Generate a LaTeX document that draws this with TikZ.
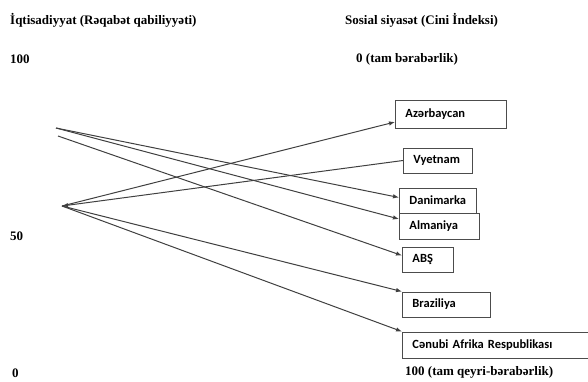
\documentclass[tikz,border=0pt]{standalone}
\usepackage{fontspec}
\setmainfont{Liberation Serif}
\newfontfamily\calfont{Carlito}
\usetikzlibrary{arrows.meta,positioning}

\begin{document}
\begin{tikzpicture}[x=1pt, y=-1pt,
    box/.style={rectangle, draw=gray!60!black, line width=0.9pt, anchor=west, align=left,
      inner xsep=10pt, inner ysep=0pt, minimum height=25pt, font=\calfont\bfseries\fontsize{12.5}{14}\selectfont},
    link/.style={draw=gray!50!black, line width=1pt, -{Latex[length=6pt,width=4.5pt]}},
    lbl/.style={anchor=west, inner sep=0pt, font=\bfseries\fontsize{13}{15}\selectfont}]
  \clip (0,0) rectangle (588,382);
  % Header
  \node (eco) [lbl] at (10,20) {İqtisadiyyat (Rəqabət qabiliyyəti)};
  \node (soc) [lbl] at (345,20) {Sosial siyasət (Cini İndeksi)};
  \node (eco100) [lbl] at (10,59) {100};
  \node (soc0) [lbl] at (356,59) {0 (tam bərabərlik)};
  \node (eco50) [lbl] at (10,236) {50};
  \node (eco0) [lbl] at (12,373) {0};
  \node (soc100) [lbl] at (405,372) {100 (tam qeyri-bərabərlik)};
  % Countries
  \node (aze) [box, text width=91pt, minimum height=28pt] at (395,114) {Azərbaycan};
  \node (vie) [box, text width=49pt] at (403,160.5) {Vyetnam};
  \node (den) [box, text width=57pt] at (399,200.5) {Danimarka};
  \node (ger) [box, text width=60pt, minimum height=26pt] at (399,226) {Almaniya};
  \node (usa) [box, text width=31pt] at (402,259.5) {ABŞ};
  \node (bra) [box, text width=68pt] at (402,304.5) {Braziliya};
  \node (rsa) [box, text width=200pt, minimum height=26pt] at (402,345) {Cənubi Afrika Respublikası};
  % Start points
  \coordinate (hi) at (56,128);
  \coordinate (hi2) at (58,136);
  \coordinate (mid) at (62,206);
  % Arrows
  \draw[link] (hi) -- ([yshift=3pt]den.west);
  \draw[link] (hi) -- ([yshift=7pt]ger.west);
  \draw[link] (hi2) -- ([yshift=4pt]usa.west);
  \draw[link] (mid) -- ([yshift=-8pt]aze.west);
  \draw[link] (vie.west) -- (mid);
  \draw[link] (mid) -- (bra.north west);
  \draw[link] (mid) -- (rsa.north west);
\end{tikzpicture}
\end{document}
